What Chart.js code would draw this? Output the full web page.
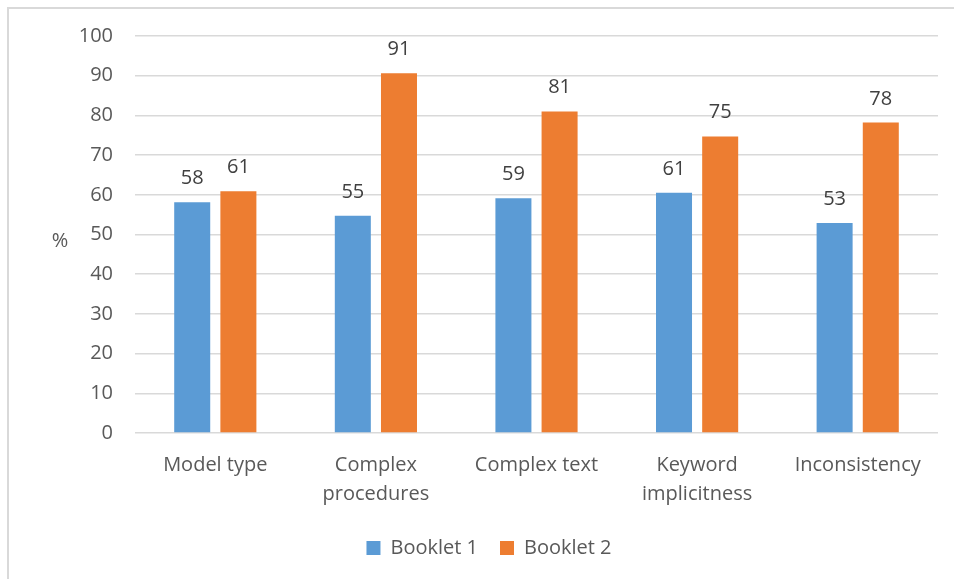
<!DOCTYPE html>
<html>
<head>
<meta charset="utf-8">
<script src="https://cdn.jsdelivr.net/npm/chart.js@4/dist/chart.umd.min.js"></script>
<style>
  html, body { margin: 0; padding: 0; background: #fff; }
  #wrap { position: relative; width: 954px; height: 579px; }
  #frame {
    position: absolute; left: 7px; top: 7px; width: 960px; height: 600px;
    border-left: 2px solid #d9d9d9; border-top: 2px solid #d9d9d9;
    pointer-events: none;
  }
  canvas { position: absolute; left: 0; top: 0; }
</style>
</head>
<body>
<div id="wrap">
  <div id="frame"></div>
  <canvas id="chart" width="954" height="579"></canvas>
</div>
<script>
const categories = ['Model type', ['Complex', 'procedures'], 'Complex text', ['Keyword', 'implicitness'], 'Inconsistency'];
const booklet1 = [58.1, 54.7, 59.1, 60.5, 52.9];
const booklet2 = [60.9, 90.6, 81.0, 74.7, 78.2];
const yTicks = [0, 10, 20, 30, 40, 50, 60, 70, 80, 90, 100];

const FONT = '"Open Sans", Lato, sans-serif';
const GREY = '#595959';

// value labels above each bar
const barLabels = {
  id: 'barLabels',
  afterDatasetsDraw(chart) {
    const ctx = chart.ctx;
    ctx.save();
    ctx.font = '20px ' + FONT;
    ctx.fillStyle = '#404040';
    ctx.textAlign = 'center';
    ctx.textBaseline = 'alphabetic';
    chart.data.datasets.forEach((ds, i) => {
      chart.getDatasetMeta(i).data.forEach((bar, j) => {
        ctx.fillText(Math.round(ds.data[j]), bar.x, bar.y - 18);
      });
    });
    ctx.restore();
  }
};

// the "%" unit, upright, left of the value axis
const unitLabel = {
  id: 'unitLabel',
  afterDraw(chart) {
    const ctx = chart.ctx;
    const a = chart.chartArea;
    ctx.save();
    ctx.font = '20px ' + FONT;
    ctx.fillStyle = GREY;
    ctx.textAlign = 'center';
    ctx.textBaseline = 'middle';
    ctx.fillText('%', 60, (a.top + a.bottom) / 2 + 7);
    ctx.restore();
  }
};

new Chart(document.getElementById('chart'), {
  type: 'bar',
  data: {
    labels: categories,
    datasets: [
      { label: 'Booklet 1', data: booklet1, backgroundColor: '#5B9BD5' },
      { label: 'Booklet 2', data: booklet2, backgroundColor: '#ED7D31' }
    ]
  },
  options: {
    responsive: false,
    animation: false,
    layout: { padding: { left: 40, right: 16, top: 36, bottom: 11 } },
    datasets: {
      bar: { categoryPercentage: 0.575, barPercentage: 0.78 }
    },
    scales: {
      x: {
        grid: { display: false },
        border: { display: false },
        ticks: { color: GREY, font: { family: FONT, size: 20, lineHeight: 1.45 }, padding: 10, maxRotation: 0 },
        afterFit(scale) { scale.height = 83; }
      },
      y: {
        min: 0,
        max: 100,
        afterBuildTicks(scale) { scale.ticks = yTicks.map(v => ({ value: v })); },
        grid: { color: '#d9d9d9', lineWidth: 1.5, drawTicks: false },
        border: { display: false },
        ticks: { color: GREY, font: { family: FONT, size: 20 }, padding: 22 },
        afterFit(scale) { scale.width = 95; }
      }
    },
    plugins: {
      tooltip: { enabled: false },
      legend: {
        position: 'bottom',
        labels: {
          color: GREY,
          font: { family: FONT, size: 20 },
          boxWidth: 14,
          boxHeight: 14,
          padding: 22
        }
      }
    }
  },
  plugins: [barLabels, unitLabel]
});
</script>
</body>
</html>
